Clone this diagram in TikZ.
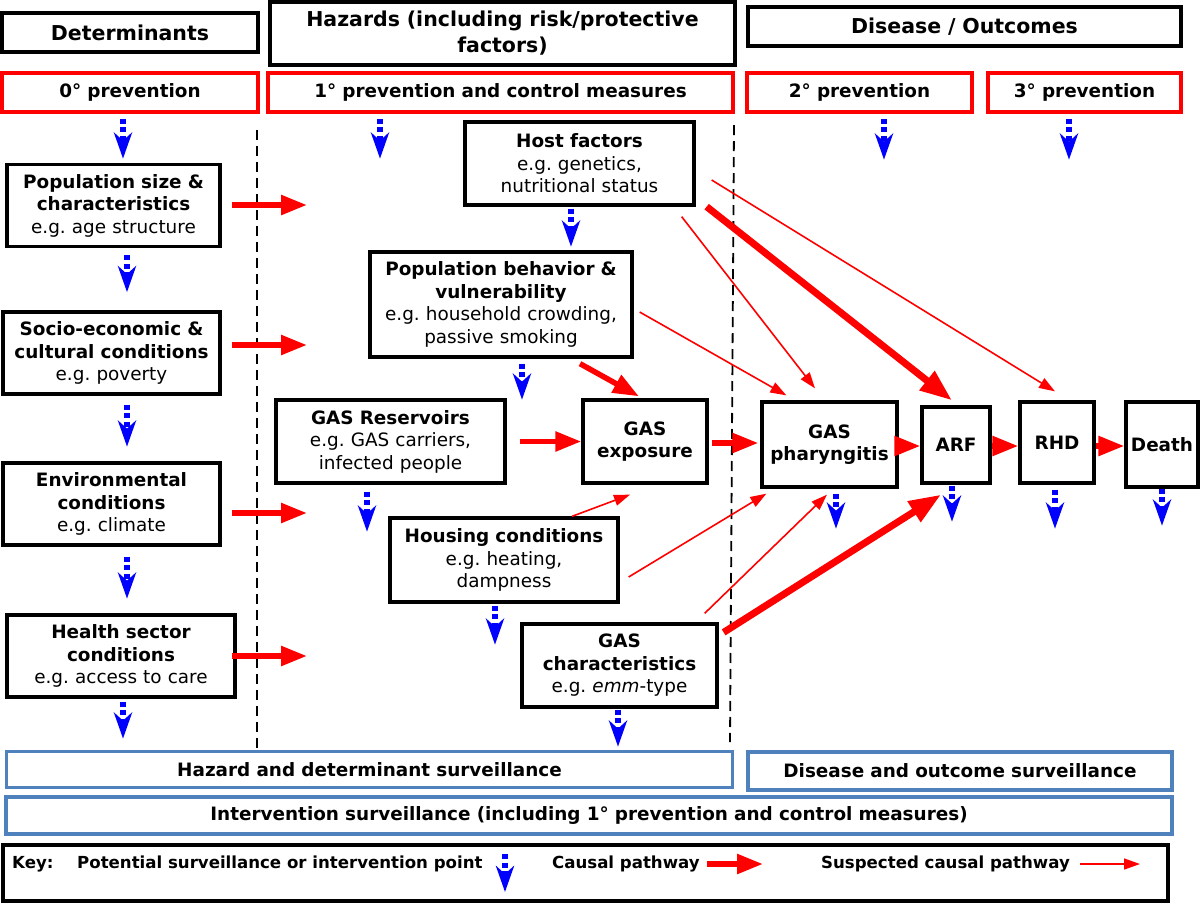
\documentclass[tikz,border=0pt]{standalone}
\usepackage{fontspec}
\setmainfont{DejaVu Sans}
\frenchspacing
\usetikzlibrary{arrows.meta}
\definecolor{survblue}{RGB}{79,129,189}
\tikzset{
        % box size (width, height)
        sz/.style 2 args={text width=#1, minimum height=#2},
        % Plain boxes
        box/.style={draw=black, line width=3.3pt, align=center, inner sep=0pt, font=\fontsize{18.4}{22.5}\selectfont},
        % Column headers
        title/.style={box, font=\fontsize{20.5}{26}\selectfont\bfseries},
        % Prevention levels
        prevbox/.style={box, draw=red, font=\fontsize{18.4}{22.5}\selectfont\bfseries},
        % Surveillance bars
        survbox/.style={box, draw=survblue, font=\fontsize{18.4}{22.5}\selectfont\bfseries},
        % Key labels
        keytext/.style={anchor=west, inner sep=0pt, font=\fontsize{16.6}{20}\selectfont\bfseries},
        % Arrows
        causal/.style={red, line width=5.5pt, -{Triangle[length=26pt,width=19pt]}},
        causalbig/.style={red, line width=7pt, -{Triangle[length=32pt,width=23pt]}},
        suspected/.style={red, line width=1.6pt, -{Triangle[length=16pt,width=11pt]}},
        survpoint/.style={blue, line width=6pt, dash pattern=on 5pt off 3.5pt, -{Stealth[length=26pt,width=18pt,inset=8pt]}},
        divider/.style={black, line width=1.8pt, dash pattern=on 10pt off 6pt}
}

\begin{document}
\begin{tikzpicture}[x=1pt, y=-1pt]
    \useasboundingbox (0,0) rectangle (1200,903);

    % headers
    \node[title, sz={256pt}{39pt}] (det) at (130,32.5) {Determinants};
    \node[title, sz={465pt}{63pt}] (haz) at (502.5,33.5) {Hazards (including risk/protective\\factors)};
    \node[title, sz={433pt}{39pt}] (dis) at (964.5,26.5) {Disease / Outcomes};

    \node[prevbox, sz={256pt}{39pt}] (p0) at (130,92.5) {0° prevention};
    \node[prevbox, sz={465pt}{39pt}] (p1) at (500.5,92.5) {1° prevention and control measures};
    \node[prevbox, sz={225pt}{39pt}] (p2) at (859.5,92.5) {2° prevention};
    \node[prevbox, sz={193pt}{39pt}] (p3) at (1084.5,92.5) {3° prevention};

    % determinants
    \node[box, sz={213pt}{82pt}] (pop) at (113.5,205.5) {{\bfseries Population size \&\\characteristics}\\e.g. age structure};
    \node[box, sz={217pt}{82pt}] (soc) at (111.5,353) {{\bfseries Socio-economic \&\\cultural conditions}\\e.g. poverty};
    \node[box, sz={217pt}{82pt}] (env) at (111.5,504) {{\bfseries Environmental\\conditions}\\e.g. climate};
    \node[box, sz={228pt}{82pt}] (hsec) at (121,656) {{\bfseries Health sector\\conditions}\\e.g. access to care};

    % hazards
    \node[box, sz={229pt}{83pt}] (host) at (579.5,163.5) {{\bfseries Host factors}\\e.g. genetics,\\nutritional status};
    \node[box, sz={262pt}{105pt}] (beh) at (501,304.5) {{\bfseries Population behavior \&\\vulnerability}\\e.g. household crowding,\\passive smoking};
    \node[box, sz={229pt}{83pt}] (res) at (390.5,441.5) {{\bfseries GAS Reservoirs}\\e.g. GAS carriers,\\infected people};
    \node[box, sz={124pt}{83pt}, font=\fontsize{18.4}{22.5}\selectfont\bfseries] (expo) at (645,441.5) {GAS\\exposure};
    \node[box, sz={228pt}{84pt}] (hous) at (504,560) {{\bfseries Housing conditions}\\e.g. heating,\\dampness};
    \node[box, sz={195pt}{83pt}] (gchar) at (619.5,665.5) {{\bfseries GAS\\characteristics}\\e.g. \textit{emm}-type};

    % outcomes
    \node[box, sz={135pt}{85pt}, font=\fontsize{18.4}{22.5}\selectfont\bfseries] (phar) at (829.5,444.5) {GAS\\pharyngitis};
    \node[box, sz={68pt}{76pt}, font=\fontsize{18.4}{22.5}\selectfont\bfseries] (arf) at (956,445) {ARF};
    \node[box, sz={74pt}{81pt}, font=\fontsize{18.4}{22.5}\selectfont\bfseries] (rhd) at (1057,442.5) {RHD};
    \node[box, sz={72pt}{85pt}, font=\fontsize{18.4}{22.5}\selectfont\bfseries] (death) at (1162,444.5) {Death};

    % surveillance
    \node[survbox, sz={726pt}{36pt}] (hsurv) at (369.5,769.5) {Hazard and determinant surveillance};
    \node[survbox, sz={424pt}{38pt}] (dsurv) at (960,771) {Disease and outcome surveillance};
    \node[survbox, sz={1166pt}{37pt}] (isurv) at (589,815.5) {Intervention surveillance (including 1° prevention and control measures)};

    % key
    \node[box, sz={1165pt}{56pt}] (key) at (585.5,873) {};
    \node[keytext] (k1) at (12,864) {Key:};
    \node[keytext] (k2) at (77,864) {Potential surveillance or intervention point};
    \node[keytext] (k3) at (552,864) {Causal pathway};
    \node[keytext] (k4) at (821,864) {Suspected causal pathway};
    \coordinate (kb) at (505,854);
    \coordinate (kc) at (707,864);
    \coordinate (ks) at (1080,864);

    % dividers
    \coordinate (d1a) at (257,130);
    \coordinate (d1b) at (257,750);
    \coordinate (d2a) at (734,125);
    \coordinate (d2b) at (730,742);
    \draw[divider] (d1a) -- (d1b);
    \draw[divider] (d2a) -- (d2b);

    % determinants into hazards
    \coordinate (e1) at (307,205);
    \coordinate (e2) at (307,345);
    \coordinate (e3) at (307,513);
    \coordinate (e4) at (307,656);
    \draw[causal] ([xshift=10pt]pop.east |- e1) -- (e1);
    \draw[causal] ([xshift=10pt]soc.east |- e2) -- (e2);
    \draw[causal] ([xshift=10pt]env.east |- e3) -- (e3);
    \draw[causal] ([xshift=-5pt]hsec.east |- e4) -- (e4);

    % main pathway
    \draw[causal, shorten <=13pt] (res.east) -- (expo.west);
    \draw[causal, shorten <=3pt, shorten >=2pt] ([yshift=-1.5pt]expo.east) -- ([yshift=-1.5pt]expo.east -| phar.west);
    \draw[causal, shorten <=-7pt] ([yshift=-1.5pt]phar.east) -- ([yshift=-1.5pt]phar.east -| arf.west);
    \draw[causal] ([yshift=-1pt]arf.east) -- ([yshift=-1pt]arf.east -| rhd.west);
    \draw[causal] ([yshift=-1pt]rhd.east |- arf.east) -- ([yshift=-1pt]arf.east -| death.west);

    % hazards into outcomes
    \draw[suspected] ([xshift=-14pt, yshift=-10pt]host.south east) -- ([xshift=-14.5pt, yshift=12pt]phar.north);
    \draw[suspected] ([xshift=16pt, yshift=-16.5pt]host.east) -- ([xshift=-2pt, yshift=9pt]rhd.north);
    \draw[causalbig] ([xshift=11pt]host.south east) -- ([xshift=-4pt, yshift=5pt]arf.north);
    \draw[suspected] ([xshift=6pt, yshift=-7.5pt]beh.east) -- ([xshift=26pt, yshift=5pt]phar.north west);
    \draw[causal] ([xshift=79pt, yshift=-5pt]beh.south) -- ([xshift=-6pt, yshift=2pt]expo.north);
    \draw[suspected] ([xshift=68pt]hous.north) -- ([xshift=-15pt, yshift=-10pt]expo.south);
    \draw[suspected] ([xshift=9pt, yshift=-17pt]hous.east) -- ([xshift=6pt, yshift=-5pt]phar.south west);
    \draw[suspected] ([xshift=-14pt, yshift=9pt]gchar.north east) -- ([xshift=-2.5pt, yshift=-6pt]phar.south);
    \draw[causalbig] ([xshift=5pt, yshift=-10pt]gchar.north east) -- ([xshift=-15pt, yshift=-10pt]arf.south);

    % surveillance / intervention points
    \draw[survpoint] ([xshift=-7pt, yshift=-5pt]p0.south) -- ++(0,40);
    \draw[survpoint] ([xshift=-120.5pt, yshift=-5pt]p1.south) -- ++(0,40);
    \draw[survpoint] ([xshift=24.5pt, yshift=-5pt]p2.south) -- ++(0,41);
    \draw[survpoint] ([xshift=-15.5pt, yshift=-5pt]p3.south) -- ++(0,41);
    \draw[survpoint] ([xshift=13.5pt, yshift=-7pt]pop.south) -- ++(0,37);
    \draw[survpoint] ([xshift=15.5pt, yshift=-9pt]soc.south) -- ++(0,42);
    \draw[survpoint] ([xshift=15.5pt, yshift=-10pt]env.south) -- ++(0,42);
    \draw[survpoint] ([xshift=2pt, yshift=-3pt]hsec.south) -- ++(0,37);
    \draw[survpoint] ([xshift=-8.5pt, yshift=-2pt]host.south) -- ++(0,38);
    \draw[survpoint] ([xshift=21pt, yshift=-5pt]beh.south) -- ++(0,36);
    \draw[survpoint] ([xshift=-23.5pt, yshift=-7pt]res.south) -- ++(0,40);
    \draw[survpoint] ([xshift=-9pt, yshift=-2pt]hous.south) -- ++(0,39);
    \draw[survpoint] ([xshift=-1.5pt, yshift=-1pt]gchar.south) -- ++(0,37);
    \draw[survpoint] ([xshift=6.5pt, yshift=-5pt]phar.south) -- ++(0,35);
    \draw[survpoint] ([xshift=-4pt, yshift=-1pt]arf.south) -- ++(0,36);
    \draw[survpoint] ([xshift=-2pt, yshift=-5pt]rhd.south) -- ++(0,39);
    \draw[survpoint] ([yshift=0pt]death.south) -- ++(0,37);

    % key symbols
    \draw[survpoint] (kb) -- ++(0,38);
    \draw[causal] (kc) -- ++(56,0);
    \draw[suspected] (ks) -- ++(60,0);
\end{tikzpicture}
\end{document}
